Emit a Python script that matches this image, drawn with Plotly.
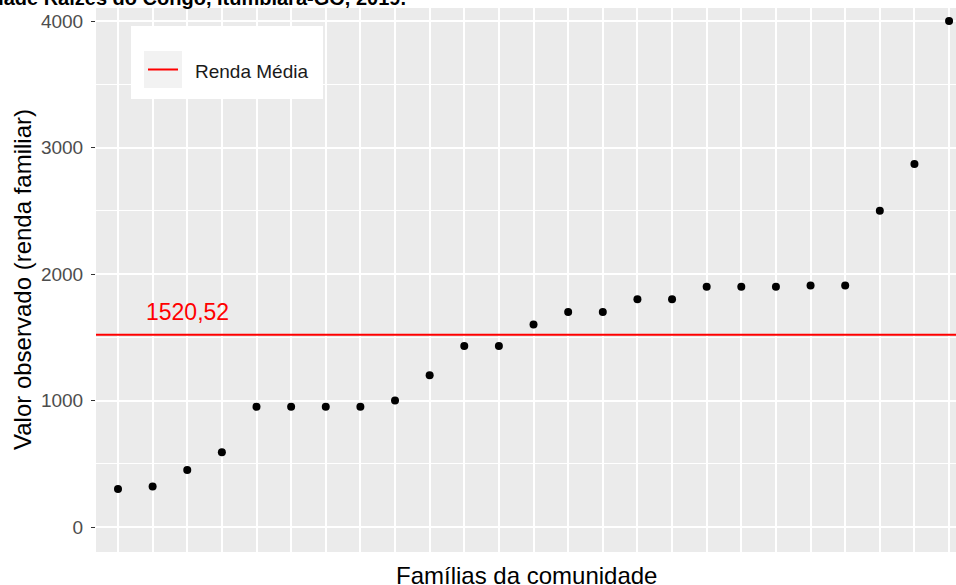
import plotly.graph_objects as go

# Renda familiar observada, famílias ordenadas da menor para a maior renda
renda = [300, 320, 450, 590, 950, 950, 950, 950, 1000, 1200, 1430, 1430, 1600,
         1700, 1700, 1800, 1800, 1900, 1900, 1900, 1910, 1910, 2500, 2870, 4000]
familia = list(range(1, len(renda) + 1))
renda_media = 1520.52
rotulo_media = f"{renda_media:.2f}".replace(".", ",")
rotulo_media_x = 3
rotulo_media_y = 1700
y_ticks = [0, 1000, 2000, 3000, 4000]

W, H = 956, 585
L, R, T, B = 96, 0, 8, 33
PW, PH = W - L - R, H - T - B


def px(x):
    return (x - L) / PW


def py(y):
    return (H - B - y) / PH


FONT = "Liberation Sans, Arial, sans-serif"

fig = go.Figure()
fig.add_trace(go.Scatter(
    x=familia, y=renda, mode="markers",
    marker=dict(color="black", size=8, line=dict(width=0)),
    showlegend=False, hoverinfo="x+y",
))

shapes = [
    # linha da renda média
    dict(type="line", xref="paper", yref="y", x0=0, x1=1, y0=renda_media, y1=renda_media,
         line=dict(color="#FF0000", width=2), layer="above"),
    # caixa da legenda
    dict(type="rect", xref="paper", yref="paper", x0=px(131), x1=px(323), y0=py(99), y1=py(26),
         fillcolor="white", line=dict(width=0), layer="above"),
    dict(type="rect", xref="paper", yref="paper", x0=px(144), x1=px(182), y0=py(88), y1=py(51),
         fillcolor="#F2F2F2", line=dict(width=0), layer="above"),
    dict(type="line", xref="paper", yref="paper", x0=px(148), x1=px(178), y0=py(69.5), y1=py(69.5),
         line=dict(color="#FF0000", width=2), layer="above"),
]

annotations = [
    dict(text=rotulo_media, x=rotulo_media_x, y=rotulo_media_y, xref="x", yref="y",
         showarrow=False, font=dict(family=FONT, size=23, color="#FF0000"),
         xanchor="center", yanchor="middle"),
    dict(text="Renda Média", x=px(193), y=py(71.5), xref="paper", yref="paper",
         showarrow=False, font=dict(family=FONT, size=19, color="#1A1A1A"),
         xanchor="left", yanchor="middle"),
    dict(text="Famílias da comunidade", x=0.5, y=py(575), xref="paper", yref="paper",
         showarrow=False, font=dict(family=FONT, size=24, color="black"),
         xanchor="center", yanchor="middle"),
    dict(text="Valor observado (renda familiar)", x=px(22), y=0.5, xref="paper", yref="paper",
         showarrow=False, textangle=-90, font=dict(family=FONT, size=24, color="black"),
         xanchor="center", yanchor="middle"),
    dict(text="<b>Comunidade Raízes do Congo, Itumbiara-GO, 2019.</b>",
         x=px(408), y=py(-2), xref="paper", yref="paper", showarrow=False,
         font=dict(family=FONT, size=20, color="black"),
         xanchor="right", yanchor="middle"),
]

fig.update_layout(
    width=W, height=H,
    margin=dict(l=L, r=R, t=T, b=B, pad=0),
    paper_bgcolor="white", plot_bgcolor="#EBEBEB",
    shapes=shapes, annotations=annotations,
    showlegend=False,
    xaxis=dict(
        range=[0.365, 25.2], tickvals=familia, showticklabels=False, ticks="",
        showgrid=True, gridcolor="white", gridwidth=2, zeroline=False,
        showline=False, fixedrange=True,
    ),
    yaxis=dict(
        range=[-197.6, 4102.8], tickvals=y_ticks, ticks="outside", ticklen=4,
        tickwidth=1, tickcolor="#333333", ticklabelstandoff=4,
        tickfont=dict(family=FONT, size=19, color="#4D4D4D"),
        showgrid=True, gridcolor="white", gridwidth=2, zeroline=False,
        showline=False,
        minor=dict(dtick=500, tick0=0, showgrid=True, gridcolor="white", gridwidth=1, ticks=""),
    ),
)

fig.write_html("out.html")
